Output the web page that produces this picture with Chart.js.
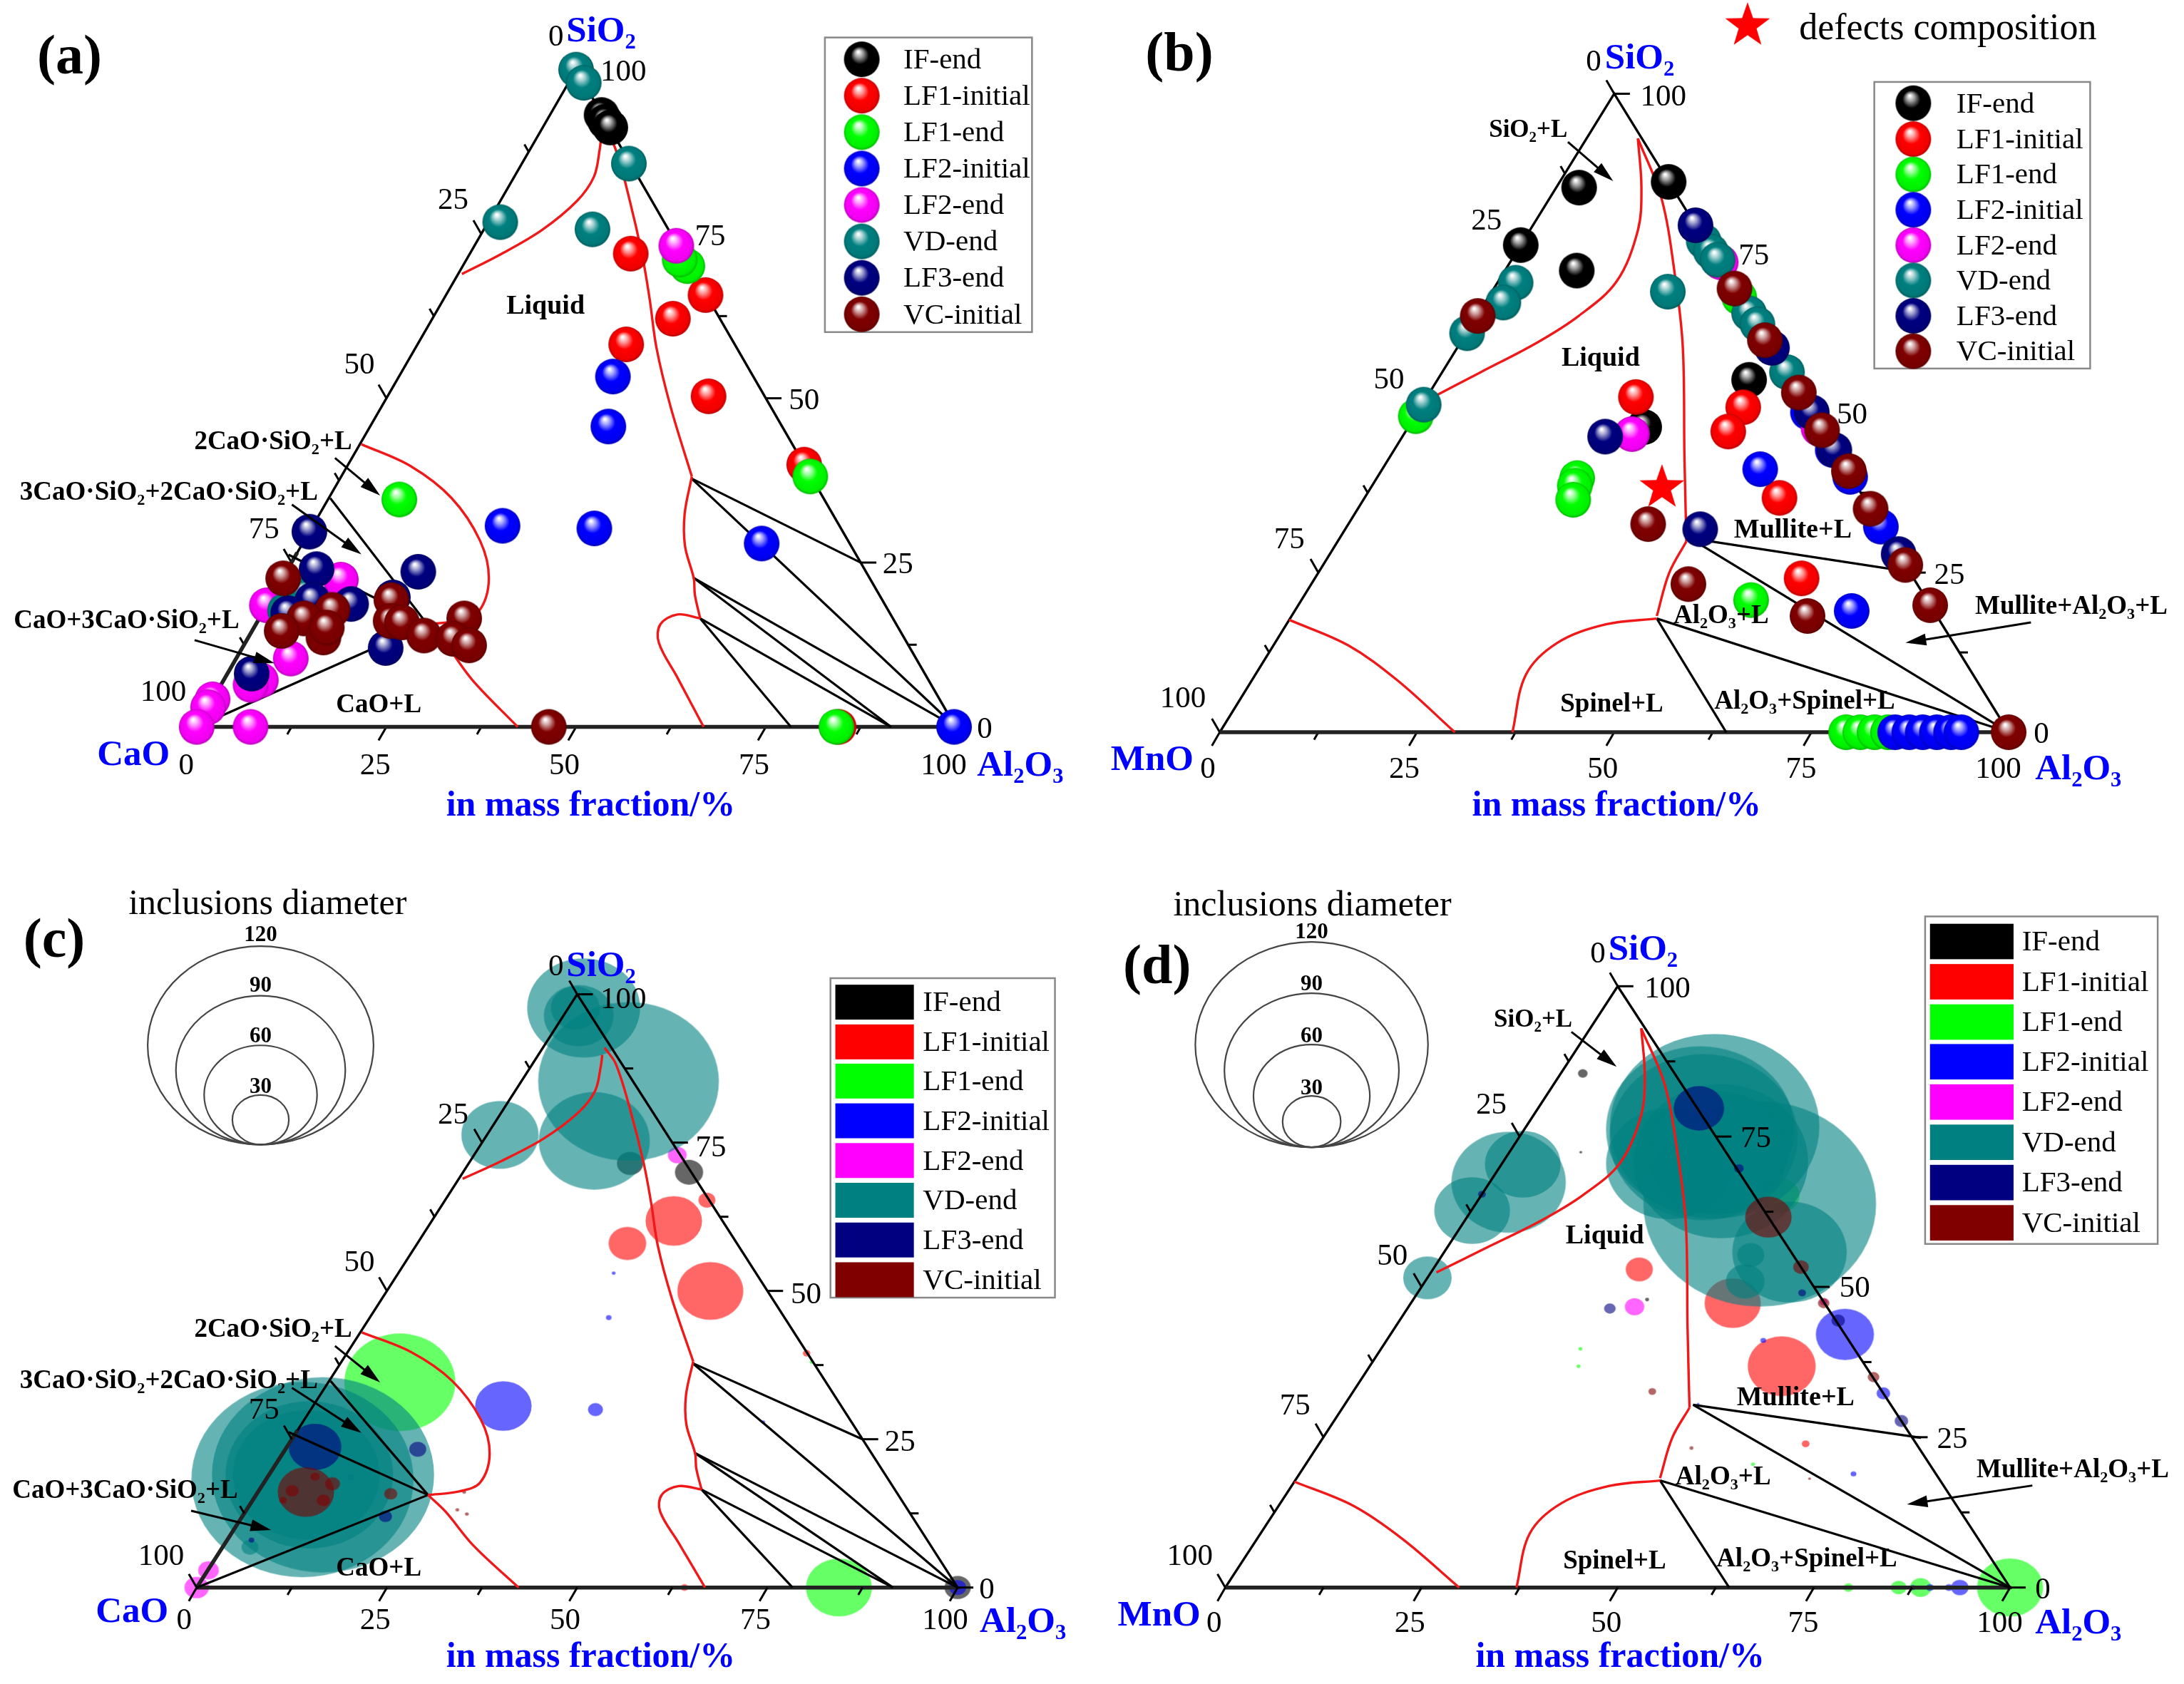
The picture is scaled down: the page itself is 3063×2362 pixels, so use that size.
<!DOCTYPE html>
<html><head><meta charset="utf-8">
<style>html,body{margin:0;padding:0;background:#fff;width:3063px;height:2362px;overflow:hidden}canvas{position:absolute;filter:blur(0.7px)}</style>
<script src="https://cdn.jsdelivr.net/npm/chart.js@4"></script>
</head><body>
<script>
// Composition values are [Al2O3 %, SiO2 %] (third component is the remainder); bubbles add a diameter.
const seriesNames = ['IF-end','LF1-initial','LF1-end','LF2-initial','LF2-end','VD-end','LF3-end','VC-initial'];
const seriesColors = ['#000000','#ff0000','#00ff00','#0000ff','#ff00ff','#008080','#000080','#800000'];
const tickLabels = ['0','25','50','75','100'];
const tickValues = [0,12.5,25,37.5,50,62.5,75,87.5,100];
const scaleDiameters = [120,90,60,30];

// Panel (a) CaO-SiO2-Al2O3
const aIF = [[6.8,93.1],[7.8,92.1],[8.9,91.2]];
const aLF1i = [[21.2,72],[34.2,65.7],[31.7,62.1],[27.5,58.2],[42.3,50.3],[60.1,39.9],[84.6,0]];
const aLF1e = [[29.6,70.1],[28.1,71.1],[61.8,38.1],[9.4,34.6],[84.3,0]];
const aLF2i = [[28.2,53.3],[31.4,45.7],[25,30.6],[37.3,30.2],[60.5,27.9],[99.8,0]];
const aLF2e = [[26.6,73.2],[7.8,22.4],[0,18.5],[7.2,10.4],[4.9,7.1],[3.9,6.4],[0,4.2],[0,3],[0,0],[7.1,0]];
const aVD = [[0,100],[2,98],[14.1,85.7],[1.6,76.8],[14.3,75.7],[3.5,18.9],[2.8,17.7],[4.3,20.1]];
const aLF3 = [[0,29.7],[17.4,23.6],[3.8,24],[11,18.7],[16,19.7],[5.6,19.3],[3.4,17.3],[18.9,12],[3.2,8.1]];
const aVC = [[0.1,22.6],[16,19.3],[9,17.8],[5.9,16.5],[3.9,14.6],[9.9,13.6],[9.6,15.1],[17.5,16.1],[19.1,15.9],[23,13.9],[27,16.5],[27.1,13.4],[29.7,12.4],[46.4,0]];

// Panel (b) MnO-SiO2-Al2O3
const bIF = [[13.8,86.2],[2.9,85.3],[0,76.3],[9.1,72.3],[39.5,55.2],[29.9,47.8]];
const bLF1i = [[26.5,52.5],[40.9,50.9],[40.9,47.1],[52.6,36.7],[61.7,24.1]];
const bLF1e = [[0.1,49.5],[25.4,39.8],[25.7,38.6],[26.6,36.4],[57,20.7],[31.8,68.1],[79.4,0],[81.2,0],[83,0],[84.7,0]];
const bLF2i = [[47.9,41.2],[70.6,19],[67.7,32.2],[59.9,40],[49.5,50.1],[55.6,44.2],[85.6,0],[87.4,0],[89.1,0],[90.9,0],[92.7,0],[94,0]];
const bLF2e = [[28.9,46.7],[26.7,73.6],[52.1,47.6]];
const bVD = [[22.9,76.9],[24.6,75.3],[26.1,74],[34.3,65.6],[36.2,63.9],[43.7,56.4],[2.3,70.4],[2.3,67.3],[0.1,62.5],[0.2,51.3],[22.3,69]];
const bLF3 = [[20.6,79.4],[45,31.8],[25.7,46.3],[39.9,60.2],[50,50.1],[55.8,44.2],[72.1,27.9]];
const bVC = [[30.5,69.5],[0.1,65.2],[38.4,61.4],[46.8,53.2],[52.7,47.3],[59.3,40.9],[65,35],[73.8,26.2],[80.1,19.9],[38,32.6],[47.8,23.2],[65.4,18.2],[100,0]];
const bDefects = [[36.9,38.3]];

// Panel (c) bubbles [Al2O3, SiO2, diameter]
const cIF = [[29.7,70,15],[21.2,71.5,14],[100,0,14]];
const cLF1i = [[31.8,61.8,30],[27.6,58,20],[42.5,50,35],[34.4,65.3,9],[60.4,39.5,4],[64.1,0,4]];
const cLF1e = [[9.4,34.6,59],[84.4,0,35],[61.8,38,2]];
const cLF2i = [[25,30.6,30],[37.4,30,8],[28.3,53,2],[31.4,45.5,3],[60.5,27.9,2],[100,0,9],[11,18.6,4]];
const cLF2e = [[26.7,72.9,10],[0.1,2.9,11],[0,0,13]];
const cVD = [[14.1,85.3,96],[2,97.7,60],[2,96.4,37],[0.9,97.7,26],[1.7,76.3,41],[14.6,75.3,59],[4.8,18.2,118],[7.1,19,118],[5.3,19,89],[4.9,19,78],[3.6,6.8,9]];
const cLF3 = [[3.7,23.7,28],[17.4,23.3,9],[18.8,12,7],[3.2,8,3]];
const cVC = [[6.3,16.1,30],[9.1,17.5,8],[4.4,16.3,7],[6.2,18.7,5],[9.3,14.7,7],[17.6,15.8,7],[4,14.7,4],[27.1,16.1,2],[27.7,13.1,2],[29.3,12.4,2]];

// Panel (d) bubbles [Al2O3, SiO2, diameter]
const dIF = [[2.8,85.5,5],[9.1,72.4,1.5],[29.8,47.9,2]];
const dLF1i = [[26.3,52.9,14],[41,47.3,29],[52.5,36.8,35],[62,23.9,4]];
const dLF1e = [[100,0,34],[88.6,0,11],[79.4,0,5],[85.8,0,8],[82.3,0,2],[26.6,36.8,2],[25.4,39.7,2],[57,20.5,2],[38.1,65.2,20]];
const dLF2i = [[57.9,42.1,30],[67.7,32.3,7],[93.6,0,9],[92.2,0,4],[89.8,0,4],[87.6,0,3],[70.6,18.9,3],[48,41.1,3],[45,30.5,1.5]];
const dLF2e = [[28.8,46.7,10],[52.5,47.5,4]];
const dVD = [[36.2,63.8,120],[24,76.7,108],[23.5,74.9,97],[22.4,76.2,97],[21.3,70.5,65],[26.6,72.3,72],[27.7,70.9,90],[44,55.8,59],[39.3,55.3,14],[40.8,50.9,20],[2.7,70.4,39],[2.4,67.4,59],[0.1,62.7,39],[0,51.5,25]];
const dLF3 = [[20.5,79.7,26],[25.8,46.4,6],[30.6,69.7,5],[72.3,27.7,7],[55.9,44.4,7],[49,49,4],[0,65.4,4]];
const dVC = [[38.4,61.6,24],[46.7,53.3,8],[52.6,47.3,6],[65.1,35,6],[38.1,32.6,4],[47.8,23.2,2],[65.4,18.1,1.5],[100,0,2]];

// Phase diagram boundaries, [Al2O3, SiO2]
const frameLine = [[0,0],[100,0],[0,100],[0,0]];
const baseLine = [[0,0],[100,0]];
const caoEdge = [[0,0],[0,26.5]];
const caoRed1 = [[0.5,68.9],[4.1,71.9],[7.7,75.6],[10.1,80],[10.5,83.7],[9.2,87.8],[8.4,89.8]];
const caoRed2 = [[8.1,91],[11,88.2],[16.8,80.4],[23,71.5],[27.2,65],[31.8,57.6],[38.1,48.7],[46.2,38.1]];
const caoRed3 = [[46.2,38.1],[48.1,32.4],[50.6,27.5],[54.2,22.6],[55.6,20.1],[58.1,16.5]];
const caoRed4 = [[58.1,16.5],[54.8,17.1],[53.3,15.6],[54.5,12.8],[59.6,7.5],[66.8,0]];
const caoRed5 = [[0.2,43],[8.3,39.7],[16.2,34.8],[23.2,28.3],[27.2,22.6],[28.4,17.7],[26.4,16.2],[22.6,15.6]];
const caoRed6 = [[22.6,15.6],[26.3,12.8],[32.8,7.1],[42.3,0]];
const caoBlack = [
  [[46.3,37.8],[75,25]], [[46.3,37.8],[100,0]], [[54.1,22.7],[91.5,0]], [[54.1,22.7],[100,0]],
  [[58.1,16.5],[91.5,0]], [[58.1,16.5],[78.3,0]],
  [[22.6,15.6],[0.2,34.8]], [[22.6,15.6],[-1,26.2]], [[22.6,15.6],[0,0]]
];
const mnoRed1 = [[0.7,52.4],[4.9,56.4],[9.7,61],[12.9,65.2],[15,70.6],[13.7,78.6],[10.8,85.3],[6.5,93]];
const mnoRed2 = [[6.5,93],[14.2,83.6],[22.2,71.1],[28.6,60.2],[37.2,43.4],[44.2,29.9]];
const mnoRed3 = [[44.2,29.9],[44.5,24.9],[46.3,18.2]];
const mnoRed4 = [[46.5,17.8],[40.5,16.9],[35.8,14],[34.3,9],[37.1,0]];
const mnoRed5 = [[0,17.6],[9.5,13.6],[18.5,8.1],[29.8,0]];
const mnoBlack = [[[44.4,30.4],[76.2,24.9]], [[44.4,30.4],[100,0]], [[46.5,17.8],[100,0]], [[46.5,17.8],[64.2,0]]];

const caoLines = {red:[caoRed1,caoRed2,caoRed3,caoRed4,caoRed5,caoRed6], black:caoBlack, heavy:[baseLine,caoEdge]};
const mnoLines = {red:[mnoRed1,mnoRed2,mnoRed3,mnoRed4,mnoRed5], black:mnoBlack, heavy:[baseLine]};

// ---------- layout (in units of the 1570-wide crops; divided by sx / sy to get page pixels) ----------
const panels = [
 {id:'(a)',left:0,top:0,W:1530,H:1180,sx:1.026,sy:1.331,x0:283,x1:1375,y0:1357,ya:130,mode:'ball',lines:caoLines,
  series:[aIF,aLF1i,aLF1e,aLF2i,aLF2e,aVD,aLF3,aVC],
  leftLbl:[[800,65],[652,370],[517,677],[380,985],[235,1288]],
  rightLbl:[[1417,1357],[1292,1050],[1157,743],[1022,437],[897,130]],
  baseLbl:[[268,1425],[540,1425],[812,1425],[1085,1425],[1358,1425]],
  titles:[['SiO₂',865,55],['CaO',192,1405],['Al₂O₃',1468,1425]],mass:[850,1500],tag:[100,105],
  legend:{x1:1187,x2:1485,y1:70,y2:620,rows:[108,176,244,312,380,448,516,584],mark:1240,text:1300},
  notes:[['Liquid',785,567,38],['2CaO·SiO₂+L',393,820,37],['3CaO·SiO₂+2CaO·SiO₂+L',243,915,37],['CaO+3CaO·SiO₂+L',182,1155,37],['CaO+L',545,1312,37]],
  arrows:[[482,855,547,925],[420,942,520,1035],[280,1195,395,1238]]},
 {id:'(b)',left:1530,top:0,W:1533,H:1180,sx:1.024,sy:1.331,x0:185,x1:1318,y0:1367,ya:175,mode:'ball',lines:mnoLines,
  series:[bIF,bLF1i,bLF1e,bLF2i,bLF2e,bVD,bLF3,bVC],star:bDefects,starKey:[943,48],starText:['defects composition',1017,50],
  leftLbl:[[722,112],[568,408],[428,705],[285,1003],[132,1300]],
  rightLbl:[[1365,1367],[1233,1070],[1093,770],[952,473],[822,177]],
  baseLbl:[[168,1432],[450,1432],[735,1432],[1020,1432],[1303,1432]],
  titles:[['SiO₂',788,105],['MnO',88,1415],['Al₂O₃',1418,1432]],mass:[755,1500],tag:[127,100],
  legend:{x1:1125,x2:1435,y1:153,y2:688,rows:[190,257,323,389,455,521,587,653],mark:1181,text:1243},
  notes:[['SiO₂+L',628,238,35],['Liquid',732,665,38],['Mullite+L',1008,985,38],['Al₂O₃+L',905,1145,37],['Mullite+Al₂O₃+L',1408,1128,37],['Spinel+L',748,1310,37],['Al₂O₃+Spinel+L',1025,1305,37]],
  arrows:[[685,265,750,338],[1350,1162,1170,1200]]},
 {id:'(c)',left:0,top:1180,W:1530,H:1182,sx:1.026,sy:1.328,x0:283,x1:1378,y0:1390,ya:285,mode:'bubble',lines:caoLines,bw:2.64,bh:2.32,
  series:[cIF,cLF1i,cLF1e,cLF2i,cLF2e,cVD,cLF3,cVC],
  leftLbl:[[800,230],[652,505],[517,780],[380,1055],[232,1328]],
  rightLbl:[[1420,1390],[1295,1115],[1160,840],[1023,567],[897,290]],
  baseLbl:[[265,1447],[540,1447],[813,1447],[1087,1447],[1360,1447]],
  titles:[['SiO₂',865,228],['CaO',190,1432],['Al₂O₃',1472,1450]],mass:[850,1515],tag:[78,183],
  legend:{x1:1195,x2:1518,y1:255,y2:850,rows:[297,371,444,518,592,666,740,814],sw:[1202,1315],swH:65,text:1328},
  notes:[['2CaO·SiO₂+L',393,905,37],['3CaO·SiO₂+2CaO·SiO₂+L',243,1000,37],['CaO+3CaO·SiO₂+L',180,1205,37],['CaO+L',545,1350,37]],
  arrows:[[482,940,547,1008],[420,1018,520,1102],[275,1247,390,1283]],
  key:{title:[385,113],cx:375,bottom:565,labels:[170,264,358,453]}},
 {id:'(d)',left:1530,top:1180,W:1533,H:1182,sx:1.024,sy:1.328,x0:193,x1:1320,y0:1390,ya:270,mode:'bubble',lines:mnoLines,bw:2.72,bh:2.4,
  series:[dIF,dLF1i,dLF1e,dLF2i,dLF2e,dVD,dLF3,dVC],
  leftLbl:[[728,205],[575,487],[433,768],[293,1048],[142,1328]],
  rightLbl:[[1367,1390],[1237,1110],[1097,828],[955,550],[828,270]],
  baseLbl:[[177,1452],[458,1452],[740,1452],[1023,1452],[1305,1452]],
  titles:[['SiO₂',793,198],['MnO',98,1438],['Al₂O₃',1418,1452]],mass:[760,1515],tag:[95,232],
  legend:{x1:1198,x2:1532,y1:140,y2:750,rows:[184,259,334,408,483,558,633,708],sw:[1205,1325],swH:66,text:1337},
  notes:[['SiO₂+L',635,328,35],['Liquid',738,730,38],['Mullite+L',1012,1032,38],['Al₂O₃+L',908,1180,37],['Mullite+Al₂O₃+L',1410,1167,37],['Spinel+L',752,1337,37],['Al₂O₃+Spinel+L',1028,1332,37]],
  arrows:[[690,355,755,420],[1352,1200,1172,1235]],
  key:{title:[318,116],cx:317,bottom:570,labels:[165,262,358,455]}}
];

const SERIF = '"Liberation Serif","Times New Roman",serif';
const BALL_R = 25;
const TEXT_DY = 4;

function rgb(h){return [1,3,5].map(i=>parseInt(h.substr(i,2),16));}
function mix(h,t,a){const c=rgb(h),d=rgb(t);return 'rgb('+c.map((v,i)=>Math.round(v*(1-a)+d[i]*a)).join(',')+')';}
const cache = new Map();
function ballSprite(color,r){
  const k='b'+color+r; if(cache.has(k))return cache.get(k);
  const c=document.createElement('canvas');c.width=c.height=2*r+2;
  const g=c.getContext('2d'),m=r+1;
  const gr=g.createRadialGradient(m-.2*r,m-.42*r,r*.04,m,m,r);
  gr.addColorStop(0,'#ffffff');
  gr.addColorStop(.2,mix(color,'#ffffff',.62));
  gr.addColorStop(.48,color);
  gr.addColorStop(.88,mix(color,'#000000',.06));
  gr.addColorStop(1,mix(color,'#000000',.28));
  g.fillStyle=gr;g.beginPath();g.arc(m,m,r,0,Math.PI*2);g.fill();
  cache.set(k,c);return c;
}
function ellipseSprite(color,w,h){
  const k='e'+color+w.toFixed(1)+h.toFixed(1); if(cache.has(k))return cache.get(k);
  const c=document.createElement('canvas');c.width=Math.ceil(w)+2;c.height=Math.ceil(h)+2;
  const g=c.getContext('2d');g.fillStyle=color;g.globalAlpha=.6;
  g.beginPath();g.ellipse(c.width/2,c.height/2,w/2,h/2,0,0,Math.PI*2);g.fill();
  cache.set(k,c);return c;
}
function starSprite(r){
  const k='s'+r; if(cache.has(k))return cache.get(k);
  const c=document.createElement('canvas');c.width=c.height=2*r+2;
  const g=c.getContext('2d');g.fillStyle='#ff0000';g.beginPath();
  for(let i=0;i<10;i++){const a=-Math.PI/2+i*Math.PI/5,q=i%2?r*.4:r;g.lineTo(r+1+q*Math.cos(a),r+1+q*Math.sin(a));}
  g.closePath();g.fill();cache.set(k,c);return c;
}
const toXY=p=>({x:p[0]+p[1]/2,y:p[1],d:p[2]});

function overlay(p){
  const X=v=>v/p.sx, Y=v=>v/p.sy;
  function txt(g,s,x,y,font,color,align){g.font=font;g.fillStyle=color||'#000';g.textAlign=align||'center';g.textBaseline='middle';g.fillText(s,X(x),Y(y)+TEXT_DY);}
  function ticks(chart){
      const g=chart.ctx,sx=chart.scales.x,sy=chart.scales.y;
      const px=(al,si)=>[sx.getPixelForValue(al+si/2),sy.getPixelForValue(si)];
      g.save();g.strokeStyle='#000';g.lineWidth=3;
      tickValues.forEach(t=>{
        const L=(t%25===0)?22:12;
        [[px(0,100-t),-.5,-.866],[px(100-t,t),1,0],[px(t,0),-.5,.866]].forEach(([o,dx,dy])=>{
          g.beginPath();g.moveTo(o[0],o[1]);g.lineTo(o[0]+dx*L,o[1]+dy*L);g.stroke();
        });
      });
      g.restore();
  }
  return {
    id:'ternary'+p.id,
    beforeDatasetsDraw(chart){ if(p.mode==='ball') ticks(chart); },
    afterDraw(chart){
      const g=chart.ctx;g.save();
      if(p.mode!=='ball') ticks(chart);
      const tf='43px '+SERIF;
      p.leftLbl.forEach((q,i)=>txt(g,tickLabels[i],q[0],q[1],tf));
      p.rightLbl.forEach((q,i)=>txt(g,tickLabels[i],q[0],q[1],tf));
      p.baseLbl.forEach((q,i)=>txt(g,tickLabels[i],q[0],q[1],tf));
      p.titles.forEach(t=>txt(g,t[0],t[1],t[2],'bold 51px '+SERIF,'#0000ff'));
      txt(g,'in mass fraction/%',p.mass[0],p.mass[1],'bold 50px '+SERIF,'#0000ff');
      txt(g,p.id,p.tag[0],p.tag[1],'bold 78px '+SERIF);
      p.notes.forEach(n=>txt(g,n[0],n[1],n[2],'bold '+n[3]+'px '+SERIF));
      g.strokeStyle='#000';g.fillStyle='#000';g.lineWidth=3;
      p.arrows.forEach(a=>{
        const x1=X(a[0]),y1=Y(a[1]),x2=X(a[2]),y2=Y(a[3]),ang=Math.atan2(y2-y1,x2-x1);
        g.beginPath();g.moveTo(x1,y1);g.lineTo(x2-10*Math.cos(ang),y2-10*Math.sin(ang));g.stroke();
        g.beginPath();g.moveTo(x2,y2);
        g.lineTo(x2-30*Math.cos(ang-.28),y2-30*Math.sin(ang-.28));
        g.lineTo(x2-30*Math.cos(ang+.28),y2-30*Math.sin(ang+.28));g.closePath();g.fill();
      });
      const l=p.legend;
      g.fillStyle='#fff';g.strokeStyle='#888';g.lineWidth=2.5;
      g.fillRect(X(l.x1),Y(l.y1),X(l.x2-l.x1),Y(l.y2-l.y1));
      g.strokeRect(X(l.x1),Y(l.y1),X(l.x2-l.x1),Y(l.y2-l.y1));
      seriesNames.forEach((n,i)=>{
        const cy=Y(l.rows[i])+2;
        if(p.mode==='ball'){const s=ballSprite(seriesColors[i],BALL_R);g.drawImage(s,X(l.mark)-s.width/2,cy-s.height/2);}
        else{g.fillStyle=seriesColors[i];g.fillRect(X(l.sw[0]),Y(l.rows[i]-l.swH/2)+2,X(l.sw[1]-l.sw[0]),Y(l.swH));}
        txt(g,n,l.text,l.rows[i],'41px '+SERIF,'#000','left');
      });
      if(p.star){
        const s=starSprite(33);g.drawImage(s,X(p.starKey[0])-s.width/2,Y(p.starKey[1])-s.height/2);
        txt(g,p.starText[0],p.starText[1],p.starText[2],'52px '+SERIF,'#000','left');
      }
      if(p.key){
        txt(g,'inclusions diameter',p.key.title[0],p.key.title[1],'50px '+SERIF);
        g.strokeStyle='#444';g.lineWidth=2.2;
        const bot=Y(p.key.bottom);
        scaleDiameters.forEach((d,i)=>{
          const w=d*p.bw,h=d*p.bh;
          g.beginPath();g.ellipse(X(p.key.cx),bot-h/2,w/2,h/2,0,0,Math.PI*2);g.stroke();
          txt(g,String(d),p.key.cx,p.key.labels[i],'bold 31px '+SERIF);
        });
      }
      g.restore();
    }
  };
}

panels.forEach(p=>{
  const cv=document.createElement('canvas');cv.width=p.W;cv.height=p.H;
  cv.style.left=p.left+'px';cv.style.top=p.top+'px';cv.style.width=p.W+'px';cv.style.height=p.H+'px';
  document.body.appendChild(cv);
  const ox=p.x0/p.sx, ox1=p.x1/p.sx, oy=p.y0/p.sy, oa=p.ya/p.sy;
  const kx=(ox1-ox)/100, ky=(oy-oa)/100;
  const xs={type:'linear',display:false,min:-ox/kx,max:(p.W-ox)/kx};
  const ys={type:'linear',display:false,min:-(p.H-oy)/ky,max:oy/ky};
  const lineDs=(pts,color,width,tension)=>({data:pts.map(toXY),showLine:true,borderColor:color,borderWidth:width,tension,pointRadius:0,fill:false,clip:false});
  const lineSets=[lineDs(frameLine,'#000',3.4,0)];
  p.lines.heavy.forEach(s=>lineSets.push(lineDs(s,'#222',5.5,0)));
  p.lines.black.forEach(s=>lineSets.push(lineDs(s,'#000',3.2,0)));
  p.lines.red.forEach(s=>lineSets.push(lineDs(s,'#f01818',3.4,.35)));
  const markSets=p.series.map((s,i)=>{
    const col=seriesColors[i];
    return {label:seriesNames[i],data:s.map(toXY),showLine:false,pointRadius:10,clip:false,
      backgroundColor:col,borderColor:col,
      pointStyle:p.mode==='ball'?()=>ballSprite(col,BALL_R):(c)=>{const d=c.raw?c.raw.d:10;return ellipseSprite(col,d*p.bw,d*p.bh);}};
  });
  if(p.star)markSets.push({label:'defects composition',data:p.star.map(toXY),showLine:false,pointRadius:10,backgroundColor:'#f00',borderColor:'#f00',pointStyle:()=>starSprite(33)});
  const ds=p.mode==='ball'?lineSets.concat(markSets):markSets.concat(lineSets);
  ds.forEach((d,i)=>{d.order=ds.length-i;});
  new Chart(cv.getContext('2d'),{type:'scatter',data:{datasets:ds},plugins:[overlay(p)],
    options:{responsive:false,maintainAspectRatio:false,animation:false,devicePixelRatio:1,events:[],layout:{autoPadding:false,padding:0},
      plugins:{legend:{display:false},tooltip:{enabled:false}},scales:{x:xs,y:ys}}});
});
</script>
</body></html>
